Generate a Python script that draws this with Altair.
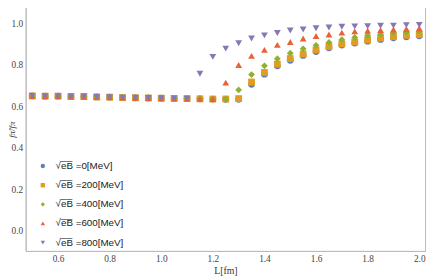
import altair as alt
import pandas as pd

L_vals = [0.50, 0.55, 0.60, 0.65, 0.70, 0.75, 0.80, 0.85, 0.90, 0.95, 1.00,
          1.05, 1.10, 1.15, 1.20, 1.25, 1.30, 1.35, 1.40, 1.45, 1.50, 1.55,
          1.60, 1.65, 1.70, 1.75, 1.80, 1.85, 1.90, 1.95, 2.00]

eB0 = [0.650, 0.649, 0.649, 0.647, 0.647, 0.645, 0.644, 0.642, 0.641, 0.640, 0.639,
       0.638, 0.637, 0.636, 0.635, 0.634, 0.634, 0.706, 0.755, 0.795, 0.822, 0.845,
       0.864, 0.882, 0.895, 0.905, 0.914, 0.922, 0.930, 0.935, 0.940]
eB200 = [0.650, 0.649, 0.649, 0.647, 0.647, 0.645, 0.644, 0.642, 0.641, 0.640, 0.639,
         0.638, 0.637, 0.636, 0.635, 0.635, 0.637, 0.717, 0.763, 0.803, 0.830, 0.852,
         0.872, 0.888, 0.901, 0.910, 0.920, 0.929, 0.936, 0.942, 0.946]
eB400 = [0.650, 0.649, 0.649, 0.647, 0.647, 0.645, 0.644, 0.642, 0.641, 0.640, 0.639,
         0.638, 0.637, 0.636, 0.635, 0.634, 0.679, 0.753, 0.795, 0.829, 0.856, 0.877,
         0.894, 0.908, 0.921, 0.932, 0.941, 0.947, 0.954, 0.958, 0.962]
eB600 = [0.650, 0.649, 0.649, 0.647, 0.647, 0.645, 0.644, 0.642, 0.641, 0.640, 0.639,
         0.638, 0.637, 0.636, 0.635, 0.714, 0.799, 0.843, 0.872, 0.896, 0.910, 0.927,
         0.939, 0.946, 0.955, 0.961, 0.964, 0.967, 0.970, 0.973, 0.976]
eB800 = [0.650, 0.649, 0.649, 0.647, 0.647, 0.645, 0.644, 0.642, 0.641, 0.640, 0.639,
         0.638, 0.637, 0.757, 0.838, 0.878, 0.904, 0.927, 0.942, 0.953, 0.965, 0.970,
         0.976, 0.980, 0.983, 0.985, 0.986, 0.988, 0.989, 0.991, 0.992]

series_labels = ["√e\u0305B\u0305 =0[MeV]", "√e\u0305B\u0305 =200[MeV]",
                 "√e\u0305B\u0305 =400[MeV]", "√e\u0305B\u0305 =600[MeV]",
                 "√e\u0305B\u0305 =800[MeV]"]
series_values = [eB0, eB200, eB400, eB600, eB800]
colors = ["#5E81B5", "#E19C24", "#8FB032", "#EB6235", "#8778B3"]
shapes = ["circle", "square", "diamond", "triangle-up", "triangle-down"]

x_ticks = [0.6, 0.8, 1.0, 1.2, 1.4, 1.6, 1.8, 2.0]
y_ticks = [0.0, 0.2, 0.4, 0.6, 0.8, 1.0]

rows = []
for i, (lab, vals) in enumerate(zip(series_labels, series_values)):
    for lv, v in zip(L_vals, vals):
        rows.append({"L": lv, "f": v, "series": lab, "idx": i})
df = pd.DataFrame(rows)

axis_common = dict(
    labelFont="Liberation Serif", labelFontSize=9.5, labelColor="#444444",
    titleFont="Liberation Serif", titleColor="#333333",
    titleFontWeight="normal", domainColor="#bbbbbb", ticks=False, grid=False,
    labelPadding=3,
)

chart = alt.Chart(df).mark_point(filled=True, opacity=1, size=48).encode(
    x=alt.X("L:Q", scale=alt.Scale(domain=[0.4745, 2.0225], nice=False, zero=False),
            axis=alt.Axis(values=x_ticks, format=".1f", title="L[fm]", titlePadding=2,
                          titleFontSize=10, **axis_common)),
    y=alt.Y("f:Q", scale=alt.Scale(domain=[-0.097, 1.0946], nice=False, zero=False),
            axis=alt.Axis(values=y_ticks, format=".1f", title="fπ̃/fπ",
                          titleFontStyle="italic", titleFontSize=9,
                          titleAngle=-90, titleX=-18, titleY=128,
                          titleBaseline="top", titleAlign="center",
                          **axis_common)),
    color=alt.Color("series:N", sort=series_labels,
                    scale=alt.Scale(domain=series_labels, range=colors),
                    legend=alt.Legend(title=None, orient="none", legendX=12.5, legendY=160.5,
                                      labelFont="Liberation Sans", labelFontSize=10,
                                      labelColor="#222222", symbolSize=20,
                                      rowPadding=9.5, padding=0, symbolStrokeWidth=0,
                                      labelOffset=8)),
    shape=alt.Shape("series:N", sort=series_labels,
                    scale=alt.Scale(domain=series_labels, range=shapes)),
    order=alt.Order("idx:Q"),
).properties(
    width=407, height=252,
    autosize=alt.AutoSizeParams(type="none"),
    padding={"left": 18, "top": -7, "right": 3, "bottom": 25},
).configure_view(stroke="#bbbbbb", strokeWidth=1)

chart.save("out.html", embed_options={"renderer": "svg", "actions": False})
